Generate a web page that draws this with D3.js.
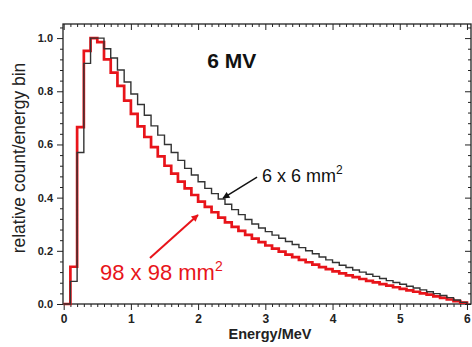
<!DOCTYPE html>
<html><head><meta charset="utf-8">
<script src="https://cdn.jsdelivr.net/npm/d3@7"></script>
<style>html,body{margin:0;padding:0;background:#fff;}svg{display:block;}</style>
</head><body>
<script>
// Bin edges: 0.1 MeV bins from 0 to 6 MeV
const binStart = d3.range(60).map(i => +(i * 0.1).toFixed(1));
const binWidth = 0.1;
const field6 = [0,0.085,0.57,0.905,1.0,1.0,0.96,0.925,0.88,0.835,
  0.79,0.75,0.71,0.67,0.635,0.60,0.57,0.54,0.51,0.485,
  0.46,0.435,0.415,0.395,0.375,0.355,0.336,0.318,0.301,0.286,
  0.272,0.259,0.247,0.235,0.224,0.212,0.2,0.189,0.177,0.166,
  0.156,0.146,0.137,0.128,0.12,0.112,0.104,0.096,0.088,0.081,
  0.074,0.067,0.06,0.053,0.046,0.039,0.032,0.024,0.015,0.006];
const field98 = [0,0.14,0.665,0.952,1.0,0.985,0.92,0.87,0.82,0.765,
  0.715,0.668,0.628,0.59,0.555,0.52,0.49,0.46,0.435,0.41,
  0.385,0.365,0.345,0.325,0.307,0.29,0.275,0.26,0.246,0.233,
  0.22,0.208,0.197,0.186,0.176,0.166,0.157,0.148,0.139,0.131,
  0.123,0.115,0.108,0.101,0.094,0.087,0.081,0.075,0.069,0.063,
  0.057,0.051,0.046,0.04,0.035,0.029,0.023,0.017,0.011,0.005];
const yTicks = [0, 0.2, 0.4, 0.6, 0.8, 1.0];
const xTicks = [0, 1, 2, 3, 4, 5, 6];

const W = 472, H = 347;
const svg = d3.select("body").append("svg").attr("width", W).attr("height", H);
const L = 63, R = 471, T = 24, B = 304;
const x = d3.scaleLinear().domain([-0.01, 6.06]).range([L, R]);
const y = d3.scaleLinear().domain([0, 1.053]).range([B, T]);

const font = "'Liberation Sans', Arial, Helvetica, sans-serif";
const axisCol = "#222";

// Minor tick values
const xMinor = d3.range(0, 61).map(i => i / 10).filter(v => Math.abs(v - Math.round(v)) > 1e-6);
const yMinor = d3.range(0, 27).map(i => i * 0.04).filter(v => v <= 1.05 && yTicks.every(t => Math.abs(t - v) > 1e-6));

// Bottom axis
const gB = svg.append("g").attr("transform", `translate(0,${B})`);
gB.call(d3.axisBottom(x).tickValues(xTicks).tickSize(6).tickFormat(d3.format("d")));
gB.append("g").call(d3.axisBottom(x).tickValues(xMinor).tickSize(3).tickFormat(""));
// Top axis (ticks inward)
const gT = svg.append("g").attr("transform", `translate(0,${T})`);
gT.call(d3.axisTop(x).tickValues(xTicks).tickSize(-6).tickFormat(""));
gT.append("g").call(d3.axisTop(x).tickValues(xMinor).tickSize(-3).tickFormat(""));
// Left axis
const gL = svg.append("g").attr("transform", `translate(${L},0)`);
gL.call(d3.axisLeft(y).tickValues(yTicks).tickSize(6).tickFormat(d3.format(".1f")));
gL.append("g").call(d3.axisLeft(y).tickValues(yMinor).tickSize(3).tickFormat(""));
// Right axis (ticks inward)
const gR = svg.append("g").attr("transform", `translate(${R},0)`);
gR.call(d3.axisRight(y).tickValues(yTicks).tickSize(-6).tickFormat(""));
gR.append("g").call(d3.axisRight(y).tickValues(yMinor).tickSize(-3).tickFormat(""));

svg.selectAll(".tick line").attr("stroke", axisCol).attr("stroke-width", 1);
svg.selectAll(".domain").remove();
svg.append("rect").attr("x", L).attr("y", T).attr("width", R - L).attr("height", B - T)
  .attr("fill", "none").attr("stroke", axisCol).attr("stroke-width", 1.3);

gB.selectAll(".tick text").attr("font-family", font).attr("font-size", 12).attr("font-weight", "bold").attr("fill", axisCol).attr("dy", "0.85em");
gL.selectAll(".tick text").attr("font-family", font).attr("font-size", 11).attr("font-weight", "bold").attr("fill", axisCol).attr("dx", "-1");

// Histogram step paths
function stepPoints(vals) {
  const pts = vals.map((v, i) => [binStart[i], v]);
  pts.push([binStart[binStart.length - 1] + binWidth, 0]);
  return pts;
}
const line = d3.line().x(d => x(d[0])).y(d => y(d[1])).curve(d3.curveStepAfter);
svg.append("path").attr("d", line(stepPoints(field98))).attr("fill", "none")
  .attr("stroke", "#e8141a").attr("stroke-width", 2.7).attr("stroke-linejoin", "miter");
svg.append("path").attr("d", line(stepPoints(field6))).attr("fill", "none")
  .attr("stroke", "#333").attr("stroke-width", 1.4).attr("stroke-linejoin", "miter");

// Arrows
const defs = svg.append("defs");
function marker(id, col) {
  defs.append("marker").attr("id", id).attr("viewBox", "0 0 10 10").attr("refX", 9).attr("refY", 5)
    .attr("markerWidth", 9).attr("markerHeight", 7).attr("markerUnits", "userSpaceOnUse").attr("orient", "auto")
    .append("path").attr("d", "M0,0 L10,5 L0,10 z").attr("fill", col);
}
marker("ab", "#111"); marker("ar", "#e8141a");
const arrows = [
  {from: [2.877, 0.477], to: [2.371, 0.398], col: "#111", m: "ab", w: 1.5},
  {from: [1.284, 0.173], to: [1.998, 0.335], col: "#e8141a", m: "ar", w: 2}
];
arrows.forEach(a => {
  svg.append("line").attr("x1", x(a.from[0])).attr("y1", y(a.from[1]))
    .attr("x2", x(a.to[0])).attr("y2", y(a.to[1]))
    .attr("stroke", a.col).attr("stroke-width", a.w).attr("marker-end", `url(#${a.m})`);
});

// Annotations
svg.append("text").attr("x", x(2.135)).attr("y", y(0.887)).attr("font-family", font)
  .attr("font-size", 21).attr("font-weight", "bold").attr("fill", "#111").text("6 MV");
const t1 = svg.append("text").attr("x", x(2.95)).attr("y", y(0.459)).attr("font-family", font)
  .attr("font-size", 18).attr("fill", "#111");
t1.append("tspan").text("6 x 6 mm");
t1.append("tspan").attr("font-size", 12).attr("dy", -8).text("2");
const t2 = svg.append("text").attr("x", x(0.54)).attr("y", y(0.09)).attr("font-family", font)
  .attr("font-size", 22).attr("fill", "#e8141a");
t2.append("tspan").text("98 x 98 mm");
t2.append("tspan").attr("font-size", 14).attr("dy", -9).text("2");

// Axis titles
svg.append("text").attr("x", 270).attr("y", 339).attr("text-anchor", "middle")
  .attr("font-family", font).attr("font-size", 14.5).attr("font-weight", "bold").attr("fill", axisCol).text("Energy/MeV");
svg.append("text").attr("transform", `translate(25,${158}) rotate(-90)`).attr("text-anchor", "middle")
  .attr("font-family", font).attr("font-size", 17.5).attr("fill", axisCol).text("relative count/energy bin");
</script>
</body></html>
